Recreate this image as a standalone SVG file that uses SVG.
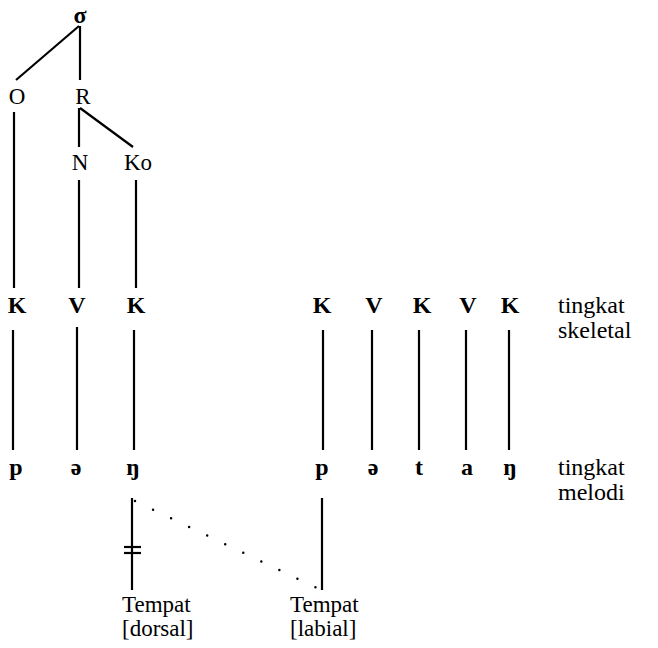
<svg xmlns="http://www.w3.org/2000/svg" width="658" height="648" viewBox="0 0 658 648">
<style>
text{font-family:'Liberation Serif','DejaVu Serif',serif;font-size:23px;fill:#000}
.c{text-anchor:middle}
.b{font-weight:bold;font-size:24px}
.lab{font-size:24px}
.l{stroke:#000;stroke-width:2.2;fill:none}
.d{stroke:#000;stroke-width:2.5;fill:none;stroke-linecap:round;stroke-dasharray:0 20}
</style>
<rect width="658" height="648" fill="#fff"/>
<g id="connectors">
<line class="l" x1="79" y1="26" x2="16" y2="80"/>
<line class="l" x1="80" y1="26" x2="80" y2="80"/>
<line class="l" x1="79" y1="108" x2="79" y2="147"/>
<line class="l" x1="80" y1="108" x2="133" y2="147"/>
<line class="l" x1="14" y1="112" x2="14" y2="288"/>
<line class="l" x1="79" y1="180" x2="79" y2="288"/>
<line class="l" x1="136" y1="180" x2="136" y2="288"/>
<line class="l" x1="13" y1="330" x2="13" y2="450"/>
<line class="l" x1="77" y1="327" x2="77" y2="450"/>
<line class="l" x1="134" y1="330" x2="134" y2="450"/>
<line class="l" x1="323" y1="330" x2="323" y2="450"/>
<line class="l" x1="372" y1="330" x2="372" y2="450"/>
<line class="l" x1="419" y1="330" x2="419" y2="450"/>
<line class="l" x1="466" y1="330" x2="466" y2="450"/>
<line class="l" x1="509" y1="330" x2="509" y2="450"/>
<line class="l" x1="132" y1="498" x2="132" y2="590"/>
<line class="l" x1="124" y1="547" x2="141" y2="547"/>
<line class="l" x1="124" y1="553" x2="141" y2="553"/>
<line class="l" x1="322" y1="498" x2="322" y2="590"/>
<line class="d" x1="135" y1="501" x2="317" y2="588"/>
</g>
<g id="n-sigma"><text class="c b" x="80" y="23">σ</text></g>
<g id="n-O"><text class="c" x="17" y="104">O</text></g>
<g id="n-R"><text class="c" x="83" y="104">R</text></g>
<g id="n-N"><text class="c" x="80" y="170">N</text></g>
<g id="n-Ko"><text class="c" x="138" y="170">Ko</text></g>
<g id="n-K1"><text class="c b" x="17" y="313">K</text></g>
<g id="n-V1"><text class="c b" x="77" y="313">V</text></g>
<g id="n-K2"><text class="c b" x="136" y="313">K</text></g>
<g id="n-K3"><text class="c b" x="322" y="313">K</text></g>
<g id="n-V2"><text class="c b" x="374" y="313">V</text></g>
<g id="n-K4"><text class="c b" x="422" y="313">K</text></g>
<g id="n-V3"><text class="c b" x="468" y="313">V</text></g>
<g id="n-K5"><text class="c b" x="510" y="313">K</text></g>
<g id="n-skeletal"><text class="lab" x="558" y="313">tingkat</text><text class="lab" x="558" y="338">skeletal</text></g>
<g id="n-p1"><text class="c b" x="16" y="475">p</text></g>
<g id="n-e1"><text class="c b" x="76" y="475">ə</text></g>
<g id="n-ng1"><text class="c b" x="133" y="475">ŋ</text></g>
<g id="n-p2"><text class="c b" x="322" y="475">p</text></g>
<g id="n-e2"><text class="c b" x="373" y="475">ə</text></g>
<g id="n-t"><text class="c b" x="419" y="475">t</text></g>
<g id="n-a"><text class="c b" x="467" y="475">a</text></g>
<g id="n-ng2"><text class="c b" x="510" y="475">ŋ</text></g>
<g id="n-melodi"><text class="lab" x="558" y="475">tingkat</text><text class="lab" x="558" y="500">melodi</text></g>
<g id="n-dorsal"><text x="122" y="612">Tempat</text><text x="122" y="636">[dorsal]</text></g>
<g id="n-labial"><text x="290" y="612">Tempat</text><text x="290" y="636">[labial]</text></g>
</svg>
